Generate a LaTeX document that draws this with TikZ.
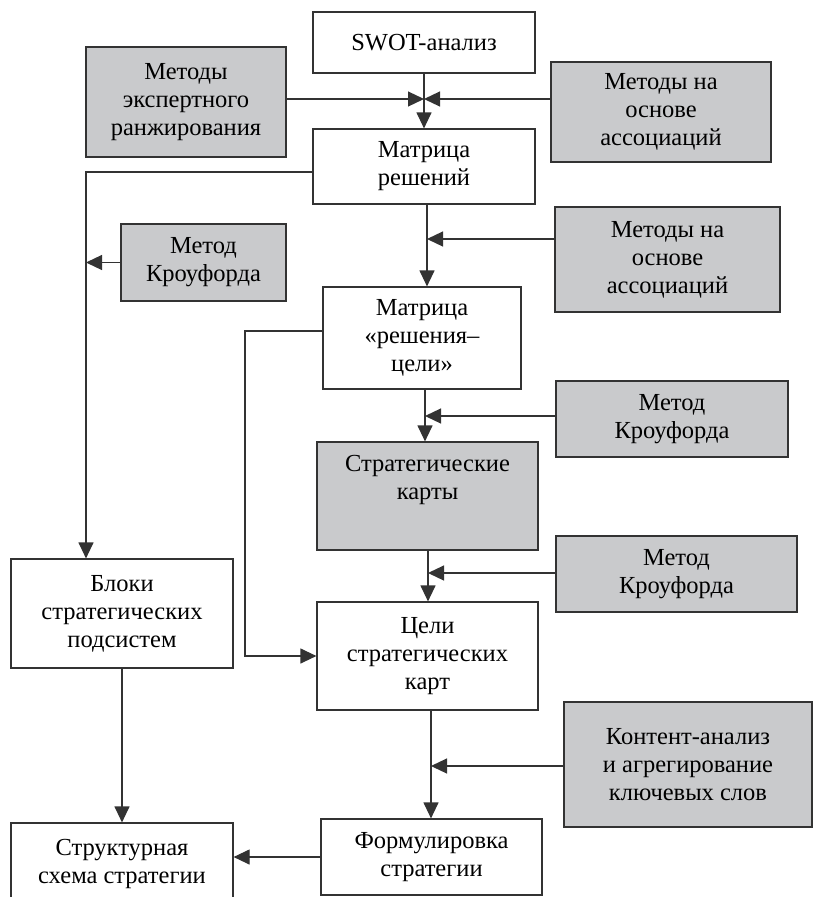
\documentclass[tikz,border=0pt]{standalone}
\usepackage{fontspec}
\setmainfont{Liberation Serif}
\usetikzlibrary{arrows.meta}
\definecolor{edge}{HTML}{333333}
\definecolor{boxgray}{HTML}{C9CACC}

\begin{document}
\begin{tikzpicture}[
    x=1pt, y=-1pt,
    font=\fontsize{24.5}{28}\selectfont,
    box/.style={draw=edge, line width=1.2pt, fill=white, align=center, inner sep=0pt},
    gbox/.style={box, fill=boxgray},
    ar/.style={-{Triangle[length=16pt, width=15pt]}, edge, line width=1.2pt}
  ]
    \useasboundingbox (0,0) rectangle (816,897);
    \clip (0,0) rectangle (816,897);
    \node[box, minimum width=222pt, minimum height=61pt] (swot) at (424,42.5) {SWOT-анализ};
    \node[gbox, minimum width=200pt, minimum height=110pt] (expert) at (186,102) {Методы\\экспертного\\ранжирования};
    \node[gbox, minimum width=220pt, minimum height=100pt] (assoc1) at (661,112) {Методы на\\основе\\ассоциаций};
    \node[box, minimum width=222pt, minimum height=75pt] (matrix) at (424,166.5) {Матрица\\решений};
    \node[gbox, minimum width=165pt, minimum height=77pt] (kroy1) at (203.5,262.5) {Метод\\Кроуфорда};
    \node[gbox, minimum width=225pt, minimum height=105pt] (assoc2) at (667.5,259.5) {Методы на\\основе\\ассоциаций};
    \node[box, minimum width=198pt, minimum height=102pt] (mrg) at (422,338) {Матрица\\«решения–\\цели»};
    \node[gbox, minimum width=232pt, minimum height=76pt] (kroy2) at (672,419) {Метод\\Кроуфорда};
    \node[gbox, minimum width=221pt, minimum height=108pt] (strat) at (427.5,496) {};
    \node[align=center, inner sep=0pt] (strattxt) at (427.5,480) {Стратегические\\карты};
    \node[gbox, minimum width=241pt, minimum height=76pt] (kroy3) at (676.5,574) {Метод\\Кроуфорда};
    \node[box, minimum width=222pt, minimum height=109pt] (blocks) at (122,613.5) {Блоки\\стратегических\\подсистем};
    \node[box, minimum width=221pt, minimum height=108pt] (goals) at (427.5,656) {Цели\\стратегических\\карт};
    \node[gbox, minimum width=248pt, minimum height=125pt] (content) at (688,764.5) {Контент-анализ\\и агрегирование\\ключевых слов};
    \node[box, minimum width=222pt, minimum height=82pt] (struct) at (122,864) {Структурная\\схема стратегии};
    \node[box, minimum width=221pt, minimum height=76pt] (formul) at (431.5,857) {Формулировка\\стратегии};
    \coordinate (meet) at (424,99);
    \coordinate (lt) at (86,172);
    \coordinate (lt2) at (245,331);
    \coordinate (j1) at (427,239);
    \coordinate (j2) at (425,416);
    \coordinate (j3) at (428,573);
    \coordinate (j4) at (431,766);
    \draw[ar] (expert.east |- meet) -- (meet);
    \draw[ar] (assoc1.west |- meet) -- (meet);
    \draw[ar] (swot.south) -- (matrix.north);
    \draw[ar] (matrix.west |- lt) -- (lt) -- (lt |- blocks.north);
    \draw[ar] (kroy1.west) -- (lt |- kroy1.west);
    \draw[ar] (matrix.south -| j1) -- (j1 |- mrg.north);
    \draw[ar] (assoc2.west |- j1) -- (j1);
    \draw[ar] (mrg.south -| j2) -- (j2 |- strat.north);
    \draw[ar] (kroy2.west |- j2) -- (j2);
    \draw[ar] (mrg.west |- lt2) -- (lt2) |- (goals.west);
    \draw[ar] (strat.south -| j3) -- (j3 |- goals.north);
    \draw[ar] (kroy3.west |- j3) -- (j3);
    \draw[ar] (goals.south -| j4) -- (j4 |- formul.north);
    \draw[ar] (content.west |- j4) -- (j4);
    \draw[ar] (blocks.south) -- (struct.north);
    \draw[ar] (formul.west) -- (formul.west -| struct.east);
  \end{tikzpicture}
\end{document}
